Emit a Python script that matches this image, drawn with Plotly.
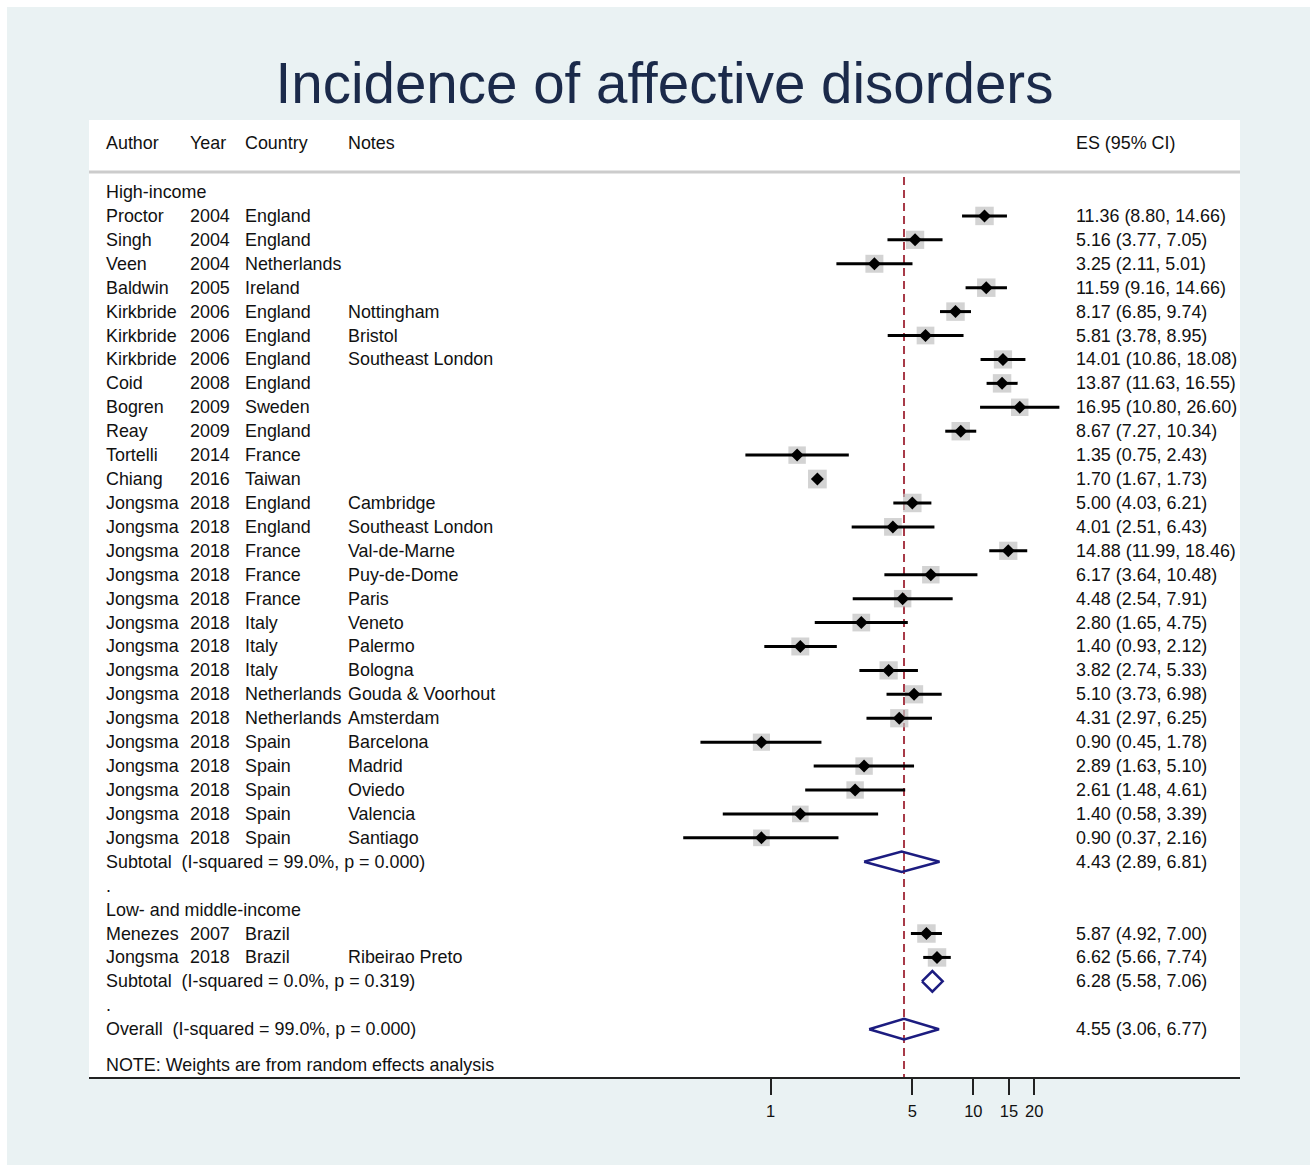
import math
import plotly.graph_objects as go

# ---------------- data ----------------
groups = ["High-income", "Low- and middle-income"]
authors = ["Proctor", "Singh", "Veen", "Baldwin", "Kirkbride", "Kirkbride", "Kirkbride",
           "Coid", "Bogren", "Reay", "Tortelli", "Chiang", "Jongsma", "Jongsma", "Jongsma",
           "Jongsma", "Jongsma", "Jongsma", "Jongsma", "Jongsma", "Jongsma", "Jongsma",
           "Jongsma", "Jongsma", "Jongsma", "Jongsma", "Jongsma",
           "Menezes", "Jongsma"]
years = ["2004", "2004", "2004", "2005", "2006", "2006", "2006", "2008", "2009", "2009",
         "2014", "2016", "2018", "2018", "2018", "2018", "2018", "2018", "2018", "2018",
         "2018", "2018", "2018", "2018", "2018", "2018", "2018",
         "2007", "2018"]
countries = ["England", "England", "Netherlands", "Ireland", "England", "England", "England",
             "England", "Sweden", "England", "France", "Taiwan", "England", "England",
             "France", "France", "France", "Italy", "Italy", "Italy", "Netherlands",
             "Netherlands", "Spain", "Spain", "Spain", "Spain", "Spain",
             "Brazil", "Brazil"]
notes = ["", "", "", "", "Nottingham", "Bristol", "Southeast London", "", "", "", "", "",
         "Cambridge", "Southeast London", "Val-de-Marne", "Puy-de-Dome", "Paris", "Veneto",
         "Palermo", "Bologna", "Gouda & Voorhout", "Amsterdam", "Barcelona", "Madrid",
         "Oviedo", "Valencia", "Santiago",
         "", "Ribeirao Preto"]
es = [11.36, 5.16, 3.25, 11.59, 8.17, 5.81, 14.01, 13.87, 16.95, 8.67, 1.35, 1.70, 5.00,
      4.01, 14.88, 6.17, 4.48, 2.80, 1.40, 3.82, 5.10, 4.31, 0.90, 2.89, 2.61, 1.40, 0.90,
      5.87, 6.62]
lo = [8.80, 3.77, 2.11, 9.16, 6.85, 3.78, 10.86, 11.63, 10.80, 7.27, 0.75, 1.67, 4.03,
      2.51, 11.99, 3.64, 2.54, 1.65, 0.93, 2.74, 3.73, 2.97, 0.45, 1.63, 1.48, 0.58, 0.37,
      4.92, 5.66]
hi = [14.66, 7.05, 5.01, 14.66, 9.74, 8.95, 18.08, 16.55, 26.60, 10.34, 2.43, 1.73, 6.21,
      6.43, 18.46, 10.48, 7.91, 4.75, 2.12, 5.33, 6.98, 6.25, 1.78, 5.10, 4.61, 3.39, 2.16,
      7.00, 7.74]
weights = [3.7, 3.6, 3.5, 3.7, 3.7, 3.4, 3.6, 3.7, 3.3, 3.7, 3.3, 3.8, 3.7, 3.4, 3.6,
           3.3, 3.3, 3.4, 3.5, 3.6, 3.6, 3.6, 3.2, 3.3, 3.3, 3.0, 3.0,
           3.7, 3.7]
study_group = [0] * 27 + [1] * 2

sub_stats = ["I-squared = 99.0%, p = 0.000", "I-squared = 0.0%, p = 0.319"]
sub_es = [4.43, 6.28]
sub_lo = [2.89, 5.58]
sub_hi = [6.81, 7.06]
overall_stat = "I-squared = 99.0%, p = 0.000"
overall_es, overall_lo, overall_hi = 4.55, 3.06, 6.77
note_text = "NOTE: Weights are from random effects analysis"
tick_vals = [1, 5, 10, 15, 20]
tick_text = ["1", "5", "10", "15", "20"]

# ---------------- styling ----------------
FONT = "Liberation Sans, Arial, sans-serif"
FS = 17.9
TXT = "#111111"
BG = "#eaf2f3"
NAVY = "#1c1c80"
RED = "#a83a48"

W, H = 1313, 1165
L, R, T, B = 89, 73, 120, 88
PW, PH = W - L - R, H - T - B
ROW0_PX, ROW_PX = 192, 23.92


def py2row(p):
    return (p - ROW0_PX) / ROW_PX


def px2paper(p):
    return (p - L) / PW


def py2paper(p):
    return (H - B - p) / PH


# rows
study_rows, header_rows, sub_rows, dot_rows = [], [], [], []
r = 0
for g in range(len(groups)):
    header_rows.append(r)
    r += 1
    for i, sg in enumerate(study_group):
        if sg == g:
            study_rows.append(r)
            r += 1
    sub_rows.append(r)
    r += 1
    dot_rows.append(r)
    r += 1
overall_row = r
note_row = py2row(1065)
head_row = py2row(143)

fig = go.Figure()

# dashed reference line at overall estimate
fig.add_trace(go.Scatter(x=[overall_es, overall_es], y=[py2row(177), py2row(H - B)],
                         mode="lines", line=dict(color=RED, width=2, dash="8px,5px"),
                         hoverinfo="skip", showlegend=False))

# weight squares
fig.add_trace(go.Scatter(x=es, y=study_rows, mode="markers",
                         marker=dict(symbol="square", color="#c0c0c0",
                                     size=[9.6 * math.sqrt(w) for w in weights],
                                     line=dict(width=0)),
                         hoverinfo="skip", showlegend=False))

# CI lines
cx, cy = [], []
for a, b, rr in zip(lo, hi, study_rows):
    cx += [a, b, None]
    cy += [rr, rr, None]
fig.add_trace(go.Scatter(x=cx, y=cy, mode="lines", line=dict(color="black", width=3),
                         hoverinfo="skip", showlegend=False))

# point estimate diamonds
fig.add_trace(go.Scatter(x=es, y=study_rows, mode="markers",
                         marker=dict(symbol="diamond", color="black", size=10,
                                     line=dict(width=0)),
                         hoverinfo="skip", showlegend=False))

# pooled diamonds
hh = 0.43
dx, dy = [], []
for e, a, b, rr in list(zip(sub_es, sub_lo, sub_hi, sub_rows)) + [
        (overall_es, overall_lo, overall_hi, overall_row)]:
    dx += [a, e, b, e, a, None]
    dy += [rr, rr - hh, rr, rr + hh, rr, None]
fig.add_trace(go.Scatter(x=dx, y=dy, mode="lines", line=dict(color=NAVY, width=2.5),
                         hoverinfo="skip", showlegend=False))

# ---------------- text ----------------
ann = []


def add_text(txt, xpx, row):
    ann.append(dict(text=txt, x=px2paper(xpx), xref="paper", y=row, yref="y",
                    xanchor="left", yanchor="middle", showarrow=False,
                    borderpad=0, borderwidth=0,
                    font=dict(family=FONT, size=FS, color=TXT)))


X_AUTH, X_YEAR, X_CTRY, X_NOTE, X_ES = 106, 190, 245, 348, 1076

add_text("Author", X_AUTH, head_row)
add_text("Year", X_YEAR, head_row)
add_text("Country", X_CTRY, head_row)
add_text("Notes", X_NOTE, head_row)
add_text("ES (95% CI)", X_ES, head_row)

for g, rr in enumerate(header_rows):
    add_text(groups[g], X_AUTH, rr)
for i, rr in enumerate(study_rows):
    add_text(authors[i], X_AUTH, rr)
    add_text(years[i], X_YEAR, rr)
    add_text(countries[i], X_CTRY, rr)
    if notes[i]:
        add_text(notes[i], X_NOTE, rr)
    add_text(f"{es[i]:.2f} ({lo[i]:.2f}, {hi[i]:.2f})", X_ES, rr)
for g, rr in enumerate(sub_rows):
    add_text("Subtotal\u00a0\u00a0(" + sub_stats[g] + ")", X_AUTH, rr)
    add_text(f"{sub_es[g]:.2f} ({sub_lo[g]:.2f}, {sub_hi[g]:.2f})", X_ES, rr)
for rr in dot_rows:
    add_text(".", X_AUTH, rr)
add_text("Overall\u00a0\u00a0(" + overall_stat + ")", X_AUTH, overall_row)
add_text(f"{overall_es:.2f} ({overall_lo:.2f}, {overall_hi:.2f})", X_ES, overall_row)
add_text(note_text, X_AUTH, note_row)

# ---------------- background shapes ----------------
shapes = [
    dict(type="rect", xref="paper", yref="paper", x0=px2paper(7), x1=px2paper(1310),
         y0=py2paper(H + 5), y1=py2paper(7), fillcolor=BG, line=dict(width=0), layer="below"),
    dict(type="rect", xref="paper", yref="paper", x0=0, x1=1, y0=0, y1=1,
         fillcolor="white", line=dict(width=0), layer="below"),
    dict(type="line", xref="paper", yref="paper", x0=0, x1=1,
         y0=py2paper(172), y1=py2paper(172), line=dict(color="#cccccc", width=3),
         layer="below"),
]

fig.update_layout(
    width=W, height=H, autosize=False,
    margin=dict(l=L, r=R, t=T, b=B, pad=0),
    paper_bgcolor="white", plot_bgcolor="rgba(0,0,0,0)",
    title=dict(text="Incidence of affective disorders", x=0.5, xref="paper", xanchor="center",
               y=1 - 83 / H, yref="container", yanchor="middle",
               font=dict(family=FONT, size=56.5, color="#1b2a4a")),
    xaxis=dict(type="log", range=[(L - 770.7) / 202.6, (L + PW - 770.7) / 202.6],
               showgrid=False, zeroline=False, showline=True, linecolor="#222222",
               linewidth=2, ticks="outside", ticklen=16, tickwidth=2, tickcolor="#222222",
               tickvals=tick_vals, ticktext=tick_text, ticklabelstandoff=2,
               tickfont=dict(family=FONT, size=16.5, color=TXT), fixedrange=True),
    yaxis=dict(range=[py2row(H - B), py2row(T)], visible=False, fixedrange=True),
    annotations=ann, shapes=shapes, showlegend=False, hovermode=False,
)

fig.write_html("out.html")
